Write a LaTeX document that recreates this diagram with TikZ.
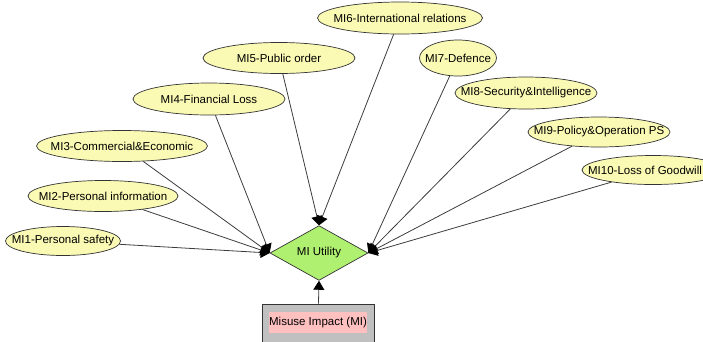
\documentclass[tikz,border=0pt]{standalone}
\usepackage{fontspec}
\setmainfont{Liberation Sans}
\usetikzlibrary{shapes.geometric,arrows.meta}
\definecolor{nodeyellow}{RGB}{250,250,180}
\definecolor{utilgreen}{RGB}{176,240,112}
\definecolor{boxgray}{RGB}{192,192,192}
\definecolor{labelpink}{RGB}{255,192,192}
\definecolor{edgegray}{RGB}{60,60,60}
\begin{document}
\begin{tikzpicture}[x=1pt,y=-1pt,
  font=\fontsize{11.5}{13}\selectfont,
  impact/.style={ellipse,draw=black!80,line width=0.7pt,fill=nodeyellow,inner sep=0pt},
  utility/.style={diamond,draw=black!80,line width=0.7pt,fill=utilgreen,inner sep=0pt,
    minimum width=98pt,minimum height=40pt},
  decision/.style={rectangle,draw=black!80,line width=0.7pt,fill=boxgray,
    minimum width=112pt,minimum height=42pt},
  link/.style={draw=edgegray,line width=0.8pt,-{Triangle[length=9pt,width=11pt,color=black]}}]
\useasboundingbox (0,0) rectangle (703,341);

% chance nodes: the ellipse size is fixed, the name sits on top as a centred label
\node[impact,minimum width=115pt,minimum height=29pt,label=center:MI1-Personal safety] (m1) at (63,241) {};
\node[impact,minimum width=150pt,minimum height=31pt,label=center:MI2-Personal information] (m2) at (103,196) {};
\node[impact,minimum width=171pt,minimum height=31pt,label=center:MI3-Commercial\&Economic] (m3) at (122,146) {};
\node[impact,minimum width=152pt,minimum height=32pt,label=center:MI4-Financial Loss] (m4) at (209,99) {};
\node[impact,minimum width=152pt,minimum height=31pt,label=center:MI5-Public order] (m5) at (279,58) {};
\node[impact,minimum width=165pt,minimum height=32pt,label=center:MI6-International relations] (m6) at (400,18) {};
\node[impact,minimum width=77pt,minimum height=36pt,label=center:MI7-Defence] (m7) at (458,58) {};
\node[impact,minimum width=142pt,minimum height=32pt,label=center:MI8-Security\&Intelligence] (m8) at (526,93) {};
\node[impact,minimum width=142pt,minimum height=30pt,label=center:MI9-Policy\&Operation PS] (m9) at (599,132) {};
\node[impact,minimum width=142pt,minimum height=29pt,label={[xshift=-8pt]center:MI10-Loss of Goodwill}] (m10) at (653,170) {};

% utility node
\node[utility] (u) at (319,253) {MI Utility};

% decision node with highlighted label
\node[decision] (d) at (318,325) {};
\node[fill=labelpink,minimum width=98pt,minimum height=21pt,inner sep=0pt] (dl) at (318,322.5) {Misuse Impact (MI)};

% links into the utility node
\foreach \n in {m1,m2,m3,m4}
  \draw[link] (\n) -- (u.west);
\foreach \n in {m5,m6}
  \draw[link] (\n) -- (u.north);
\foreach \n in {m7,m8,m9,m10}
  \draw[link] (\n) -- (u.east);
\draw[link] (d) -- (u.south);
\end{tikzpicture}
\end{document}
